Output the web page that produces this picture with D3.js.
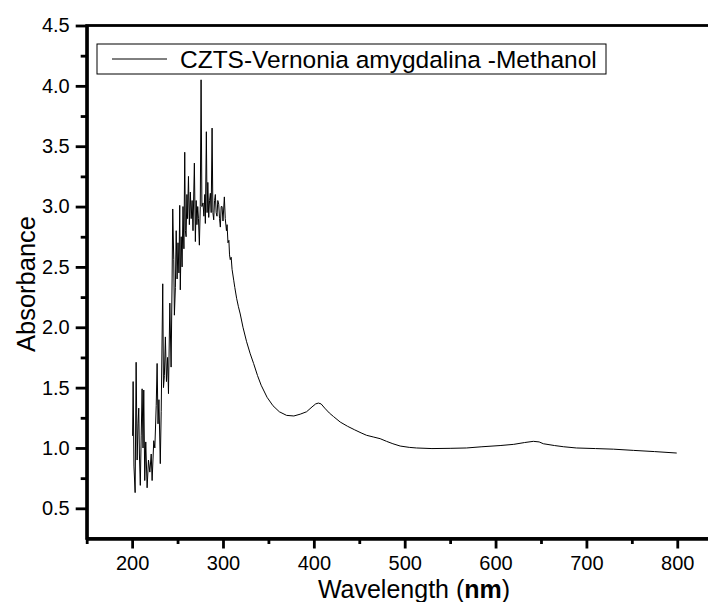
<!DOCTYPE html>
<html>
<head>
<meta charset="utf-8">
<script src="https://cdn.jsdelivr.net/npm/d3@7"></script>
<style>
  body { margin: 0; background: #fff; }
  svg { display: block; font-family: "Liberation Sans", Arial, sans-serif; }
  .axis path, .axis line { stroke: #000; stroke-width: 2.8; }
  .axis text { font-size: 20px; fill: #000; }
</style>
</head>
<body>
<div id="chart"></div>
<script>
// wavelength (nm) and absorbance
const wavelength = [
  200.5, 201.1, 202, 203.3, 204.4, 205.5, 206.5, 207.3, 208, 209, 210, 211, 212, 212.8, 213.9, 215,
  216.5, 218, 219.5, 221, 222, 223.8, 225, 226.5, 227.5, 228.5, 229.5, 231, 232, 233.7, 234.5, 235.5,
  236.6, 237.8, 239, 240, 241.5, 242.9, 244, 244.7, 245.8, 246.5, 247.6, 248.5, 249.5, 250.5, 251.5,
  252.4, 253, 254, 255, 256, 257, 257.9, 258.6, 259.4, 260.3, 261, 262, 263, 264.1, 265, 266, 267,
  268.5, 269.6, 270.5, 271.3, 272.2, 273, 274, 275, 275.9, 276.8, 278, 279, 280, 280.6, 281.7, 282.5,
  283.3, 284.3, 285.2, 286.1, 287, 288, 288.9, 289.8, 290.7, 291.6, 292.5, 293.4, 294.3, 295.3, 296.2,
  297.1, 298, 299, 300, 301.5, 302.5, 303.8, 304.5, 305.5, 306.5, 307.2, 308, 309, 310, 311.8, 313,
  315, 317, 319, 322, 326, 330, 333.7, 338, 342, 348.5, 355, 362, 370, 378, 385, 392, 398, 402, 405,
  408, 412, 417, 421.7, 429, 437, 445, 452, 458, 466, 473, 480, 487, 495, 505, 513, 530, 550, 568,
  585, 605, 620, 632, 641.6, 648, 652.6, 665, 675, 689, 710, 730, 751.7, 775, 799.4
];
const absorbance = [
  1.10, 1.55, 0.85, 0.63, 1.71, 0.90, 1.20, 1.33, 0.95, 0.69, 1.10, 1.49, 1.00, 1.48, 0.73, 1.05,
  0.67, 0.90, 0.80, 0.95, 0.73, 1.06, 1.00, 1.35, 1.70, 1.20, 1.40, 0.87, 1.30, 2.36, 1.50, 1.60,
  1.92, 1.55, 1.75, 1.45, 2.20, 1.67, 2.40, 2.98, 2.56, 2.10, 2.33, 2.80, 2.40, 2.70, 2.45,
  3.01, 2.31, 2.75, 2.50, 3.00, 2.65, 3.45, 2.80, 2.75, 3.10, 2.90, 3.25, 2.85, 3.12, 2.90, 3.05, 2.80,
  3.36, 2.71, 3.05, 2.85, 3.00, 2.90, 2.68, 3.00, 4.05, 3.00, 3.03, 2.92, 3.10, 2.86, 3.62, 2.95,
  3.20, 2.91, 3.05, 3.11, 2.95, 3.65, 2.95, 2.89, 3.05, 3.10, 2.95, 2.92, 3.05, 3.02, 2.90,
  2.83, 3.00, 3.00, 2.88, 3.08, 2.90, 2.80, 2.85, 2.70, 2.72, 2.60, 2.56, 2.58, 2.48, 2.39, 2.33,
  2.24, 2.17, 2.11, 2.00, 1.88, 1.78, 1.70, 1.60, 1.52, 1.42, 1.35, 1.30, 1.27, 1.265, 1.28, 1.30, 1.34, 1.365, 1.372,
  1.365, 1.33, 1.29, 1.26, 1.215, 1.18, 1.15, 1.125, 1.105, 1.09, 1.077, 1.055, 1.035, 1.016, 1.005, 1.0, 0.995, 0.997, 1.0,
  1.01, 1.02, 1.03, 1.045, 1.055, 1.05, 1.035, 1.02, 1.01, 1.0, 0.995, 0.99, 0.98, 0.97, 0.958
];

const xMajor = [200, 300, 400, 500, 600, 700, 800];
const xMinor = [150, 250, 350, 450, 550, 650, 750, 850];
const yMajor = [0.5, 1.0, 1.5, 2.0, 2.5, 3.0, 3.5, 4.0, 4.5];
const yMinor = [0.75, 1.25, 1.75, 2.25, 2.75, 3.25, 3.75, 4.25];
const seriesName = "CZTS-Vernonia amygdalina -Methanol";

(() => {
  const W = 708, H = 602;
  const m = { left: 86.7, top: 25.5, right: 722.7, bottom: 538.5 };

  const svg = d3.select("#chart").append("svg").attr("width", W).attr("height", H);

  const x = d3.scaleLinear().domain([150, 850]).range([m.left, m.right]);
  const y = d3.scaleLinear().domain([0.25, 4.5]).range([m.bottom, m.top]);

  // frame (top / right edges, the right one falls outside the window)
  svg.append("rect")
    .attr("x", m.left).attr("y", m.top)
    .attr("width", m.right - m.left).attr("height", m.bottom - m.top)
    .attr("fill", "none").attr("stroke", "#000").attr("stroke-width", 2.8);

  // minor ticks first, then major with labels
  svg.append("g").attr("class", "axis")
    .attr("transform", `translate(0,${m.bottom})`)
    .call(d3.axisBottom(x).tickValues(xMinor).tickSize(5.5).tickFormat("").tickSizeOuter(0));
  svg.append("g").attr("class", "axis")
    .attr("transform", `translate(0,${m.bottom})`)
    .call(d3.axisBottom(x).tickValues(xMajor).tickSize(10).tickPadding(7).tickSizeOuter(0));

  svg.append("g").attr("class", "axis")
    .attr("transform", `translate(${m.left},0)`)
    .call(d3.axisLeft(y).tickValues(yMinor).tickSize(6).tickFormat("").tickSizeOuter(0));
  svg.append("g").attr("class", "axis")
    .attr("transform", `translate(${m.left},0)`)
    .call(d3.axisLeft(y).tickValues(yMajor).tickSize(11).tickPadding(6).tickFormat(d3.format(".1f")).tickSizeOuter(0));

  // spectrum
  const data = wavelength.map((w, i) => ({ w, a: absorbance[i] }));
  svg.append("path")
    .datum(data)
    .attr("fill", "none")
    .attr("stroke", "#000")
    .attr("stroke-width", 1)
    .attr("d", d3.line().x(d => x(d.w)).y(d => y(d.a)));

  // legend
  const lg = svg.append("g");
  lg.append("rect")
    .attr("x", 97).attr("y", 44).attr("width", 509).attr("height", 30)
    .attr("fill", "#fff").attr("stroke", "#000").attr("stroke-width", 1);
  lg.append("line")
    .attr("x1", 112).attr("x2", 167).attr("y1", 59).attr("y2", 59)
    .attr("stroke", "#000").attr("stroke-width", 1);
  lg.append("text")
    .attr("x", 180).attr("y", 68)
    .attr("font-size", 24.5)
    .text(seriesName);

  // axis titles
  svg.append("text")
    .attr("transform", "translate(35,284) rotate(-90)")
    .attr("text-anchor", "middle")
    .attr("font-size", 25.5)
    .text("Absorbance");

  const xt = svg.append("text")
    .attr("x", 414).attr("y", 598)
    .attr("text-anchor", "middle")
    .attr("font-size", 25);
  xt.append("tspan").text("Wavelength (");
  xt.append("tspan").attr("font-weight", "bold").text("nm");
  xt.append("tspan").text(")");
})();
</script>
</body>
</html>
